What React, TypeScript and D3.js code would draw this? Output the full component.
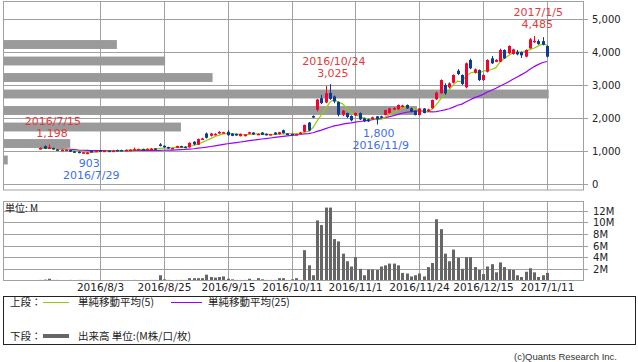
import React from 'react';
import * as d3 from 'd3';

// ---- data ----
const months: [string, number[]][] = [
  ['2016/7', [13, 14, 15, 19, 20, 21, 22, 25, 26, 27, 28, 29]],
  ['2016/8', [1, 2, 3, 4, 5, 8, 9, 10, 12, 15, 16, 17, 18, 19, 22, 23, 24, 25, 26, 29, 30, 31]],
  ['2016/9', [1, 2, 5, 6, 7, 8, 9, 12, 13, 14, 15, 16, 20, 21, 23, 26, 27, 28, 29, 30]],
  ['2016/10', [3, 4, 5, 6, 7, 11, 12, 13, 14, 17, 18, 19, 20, 21, 24, 25, 26, 27, 28, 31]],
  ['2016/11', [1, 2, 4, 7, 8, 9, 10, 11, 14, 15, 16, 17, 18, 21, 22, 24, 25, 28, 29, 30]],
  ['2016/12', [1, 2, 5, 6, 7, 8, 9, 12, 13, 14, 15, 16, 19, 20, 21, 22, 26, 27, 28, 29, 30]],
  ['2017/1', [4, 5, 6, 10, 11]],
];
const dates: string[] = months.flatMap(([m, ds]) => ds.map((d) => `${m}/${d}`));

const opens = [
  1060, 1150, 1080, 1090, 1050, 1020, 1030, 1030, 990, 980,
  940, 920, 1000, 990, 1020, 1000, 1010, 1000, 1030, 1030,
  1020, 1030, 1030, 1040, 1060, 1050, 1050, 1080, 1200, 1160,
  1120, 1080, 1100, 1150, 1130, 1110, 1280, 1190, 1350, 1530,
  1460, 1480, 1530, 1550, 1580, 1530, 1520, 1450, 1450, 1530,
  1560, 1510, 1560, 1520, 1500, 1560, 1510, 1630, 1530, 1520,
  1500, 1520, 1585, 1860, 2060, 2250, 2600, 2470, 2760, 2650,
  2490, 2100, 2150, 2060, 2080, 2150, 1990, 1960, 1960, 2050,
  2050, 2090, 2150, 2260, 2263, 2330, 2394, 2293, 2220, 2090,
  2290, 2200, 2294, 2566, 2748, 3000, 2930, 3070, 3433, 3303,
  2930, 3757, 3373, 3454, 3150, 3403, 3808, 3700, 3707, 4060,
  3960, 3940, 4000, 4000, 3860, 4110, 4300, 4330, 4330, 4182,
];
const highs = [
  1110, 1170, 1198, 1100, 1060, 1045, 1050, 1040, 1000, 990,
  970, 970, 1010, 1020, 1030, 1020, 1015, 1020, 1040, 1040,
  1045, 1050, 1100, 1070, 1070, 1080, 1090, 1090, 1240, 1170,
  1130, 1100, 1160, 1160, 1140, 1260, 1300, 1380, 1400, 1560,
  1550, 1540, 1600, 1580, 1630, 1540, 1530, 1530, 1510, 1580,
  1570, 1530, 1570, 1530, 1520, 1570, 1580, 1650, 1540, 1530,
  1520, 1580, 1800, 1880, 2080, 2580, 2700, 2970, 3025, 2680,
  2500, 2240, 2160, 2080, 2170, 2170, 2010, 1980, 2040, 2060,
  2070, 2250, 2310, 2330, 2410, 2400, 2410, 2320, 2230, 2300,
  2300, 2280, 2560, 2800, 3170, 3050, 3080, 3320, 3480, 3320,
  3680, 3800, 3500, 3470, 3330, 3780, 3880, 3780, 4100, 4080,
  4200, 4100, 4060, 4020, 4080, 4420, 4485, 4380, 4450, 4200,
];
const lows = [
  1050, 1060, 1070, 1040, 1010, 1010, 1020, 970, 950, 930,
  930, 903, 960, 980, 990, 990, 995, 995, 1010, 1015,
  1015, 1020, 1020, 1030, 1040, 1045, 1040, 1050, 1140, 1100,
  1070, 1070, 1090, 1110, 1100, 1100, 1180, 1180, 1340, 1380,
  1440, 1470, 1520, 1540, 1460, 1450, 1460, 1440, 1440, 1520,
  1490, 1500, 1480, 1470, 1490, 1490, 1500, 1530, 1490, 1490,
  1495, 1510, 1570, 1600, 2000, 2200, 2420, 2450, 2550, 2450,
  2050, 2060, 2000, 1900, 2060, 1940, 1880, 1880, 1950, 1800,
  1990, 2080, 2140, 2240, 2250, 2320, 2280, 2170, 2080, 2080,
  2140, 2180, 2280, 2550, 2740, 2700, 2900, 3050, 3300, 3000,
  2900, 3480, 3350, 3120, 3120, 3380, 3640, 3690, 3690, 3790,
  3940, 3920, 3900, 3820, 3840, 4100, 4280, 4220, 4200, 3840,
];
const closes = [
  1090, 1070, 1110, 1050, 1020, 1035, 1040, 980, 960, 940,
  960, 950, 970, 1010, 1000, 1010, 1000, 1010, 1015, 1020,
  1035, 1040, 1050, 1060, 1050, 1060, 1070, 1060, 1150, 1110,
  1080, 1090, 1150, 1120, 1110, 1250, 1200, 1360, 1380, 1400,
  1530, 1520, 1580, 1570, 1480, 1460, 1470, 1520, 1500, 1570,
  1500, 1520, 1490, 1480, 1510, 1500, 1570, 1540, 1500, 1500,
  1510, 1560, 1790, 1620, 2030, 2560, 2450, 2750, 2580, 2500,
  2100, 2220, 2030, 1930, 2150, 1960, 1900, 1900, 2020, 1960,
  2010, 2240, 2290, 2300, 2394, 2380, 2290, 2190, 2090, 2290,
  2150, 2260, 2545, 2767, 3150, 2748, 3050, 3303, 3333, 3030,
  3657, 3505, 3475, 3150, 3303, 3757, 3657, 3760, 4060, 3808,
  4181, 4080, 3930, 3900, 4060, 4384, 4340, 4240, 4220, 3858,
];
const volumes = [
  0.1, 0.15, 0.3, 0.1, 0.1, 0.05, 0.05, 0.1, 0.05, 0.1,
  0.1, 0.1, 0.05, 0.05, 0.05, 0.05, 0.05, 0.05, 0.05, 0.05,
  0.05, 0.05, 0.1, 0.05, 0.05, 0.05, 0.1, 0.1, 0.9, 0.2,
  0.1, 0.05, 0.1, 0.1, 0.1, 0.4, 0.4, 0.4, 0.4, 1.0,
  0.6, 0.5, 0.6, 0.7, 0.3, 0.2, 0.1, 0.1, 0.1, 0.3,
  0.1, 0.4, 0.2, 0.1, 0.1, 0.1, 0.4, 0.4, 0.1, 0.2,
  0.4, 0.1, 5.2, 2.6, 0.9, 10.3, 9.5, 12.5, 12.5, 7.1,
  6.7, 4.6, 3.3, 2.4, 4.0, 2.0, 0.9, 1.9, 1.9, 1.8,
  2.4, 2.6, 2.9, 2.9, 2.6, 1.3, 1.2, 0.7, 0.9, 1.2,
  0.7, 2.3, 3.0, 10.5, 8.8, 4.6, 3.3, 5.3, 3.9, 2.0,
  4.0, 4.0, 2.3, 1.8, 1.1, 2.4, 2.8, 1.4, 3.1, 2.3,
  1.9, 1.8, 0.9, 0.6, 1.5, 2.1, 1.4, 0.6, 0.9, 1.3,
];

// volume-by-price (price band centre, total volume M)
const vbpPrices = [727, 1227, 1727, 2227, 2727, 3227, 3727, 4227];
const vbpVolumes = [1.2, 17, 45, 104.7, 138, 53, 41, 28.8];

const xTickLabels = ['2016/8/3', '2016/8/25', '2016/9/15', '2016/10/11', '2016/11/1', '2016/11/24', '2016/12/15', '2017/1/11'];
const priceTicks = [0, 1000, 2000, 3000, 4000, 5000];
const volTicks = [2, 4, 6, 8, 10, 12];

const highMarks = ['2016/7/15', '2016/10/24', '2017/1/5'];
const lowMarks = ['2016/7/29', '2016/11/9'];

// ---- styles ----
const RED = '#f5002f';
const BLUE = '#0c3b91';
const GRID = '#a0a0a0';
const FONT = '"DejaVu Sans", sans-serif';
const CJK = '"Noto Sans CJK JP", sans-serif';

function movingAvg(src: number[], n: number) {
  return src.map((_, i) => {
    const s = src.slice(Math.max(0, i - n + 1), i + 1);
    return d3.mean(s) as number;
  });
}

export default function App() {
  const L = 3, R = 583;
  const x = d3.scaleLinear().domain([14, 119]).range([100, 547]);
  const y = d3.scaleLinear().domain([0, 5000]).range([184, 19]);
  const yv = d3.scaleLinear().domain([0, 12]).range([280.5, 210.5]);
  const xv = d3.scaleLinear().domain([0, 138]).range([L, 548.7]);

  const ma5 = movingAvg(closes, 5);
  const ma25 = movingAvg(closes, 25);
  const line = d3.line<number>().x((_, i) => x(i)).y((d) => y(d));

  const fmt = d3.format(',');
  const px = (v: number) => Math.round(v) + 0.5;

  return (
    <svg width={638} height={362} style={{ display: 'block', position: 'absolute', left: 0, top: 0 }}>
      <rect x={0} y={0} width={638} height={362} fill="#fff" />
      {/* upper grid */}
      {priceTicks.map((t) => (
        <g key={'pg' + t}>
          <line x1={L} x2={R + 5} y1={px(y(t))} y2={px(y(t))} stroke={GRID} strokeWidth={1} />
          <text x={592} y={y(t) + 4} fontFamily={FONT} fontSize={10} fill="#222">{fmt(t)}</text>
        </g>
      ))}
      {xTickLabels.map((d) => {
        const xi = px(x(dates.indexOf(d)));
        return (
          <g key={'vg' + d}>
            <line x1={xi} x2={xi} y1={1} y2={190} stroke={GRID} strokeWidth={1} />
            <line x1={xi} x2={xi} y1={201} y2={280} stroke={GRID} strokeWidth={1} />
            <text x={xi} y={291} textAnchor="middle" fontFamily={FONT} fontSize={10.5} fill="#222">{d}</text>
          </g>
        );
      })}
      {/* volume by price */}
      {vbpPrices.map((p, i) => (
        <rect key={'vbp' + i} x={L} y={y(p + 135)} width={xv(vbpVolumes[i]) - L} height={y(p - 135) - y(p + 135)} fill="#9a9a9a" />
      ))}
      <rect x={L + 0.5} y={1.5} width={R - L} height={188.5} fill="none" stroke={GRID} strokeWidth={1} />
      {/* moving averages */}
      <path d={line(ma25) || ''} fill="none" stroke="#9a00ff" strokeWidth={1.2} />
      <path d={line(ma5) || ''} fill="none" stroke="#99cc00" strokeWidth={1.2} />
      {/* candles */}
      {closes.map((c, i) => {
        const o = opens[i];
        const col = c >= o ? RED : BLUE;
        const cx = Math.round(x(i));
        const top = y(Math.max(o, c));
        const bot = y(Math.min(o, c));
        return (
          <g key={'c' + i}>
            <line x1={cx + 0.5} x2={cx + 0.5} y1={y(highs[i])} y2={y(lows[i])} stroke={col} strokeWidth={1} />
            <rect x={cx - 1} y={top} width={3} height={Math.max(1.5, bot - top)} fill={col} />
          </g>
        );
      })}
      {/* annotations */}
      {highMarks.map((d) => {
        const i = dates.indexOf(d);
        const yy = y(highs[i]);
        return (
          <g key={'h' + d} fill="#e03c3c" fontFamily={FONT} fontSize={11} textAnchor="middle">
            <text x={x(i) + 4} y={yy - 19.5}>{d}</text>
            <text x={x(i) + 3} y={yy - 7.5}>{fmt(highs[i])}</text>
          </g>
        );
      })}
      {lowMarks.map((d) => {
        const i = dates.indexOf(d);
        const yy = y(lows[i]);
        return (
          <g key={'l' + d} fill="#3d6fe8" fontFamily={FONT} fontSize={11} textAnchor="middle">
            <text x={x(i) + 2} y={yy + 12.5}>{fmt(lows[i])}</text>
            <text x={x(i) + 4} y={yy + 24.7}>{d}</text>
          </g>
        );
      })}
      {/* volume panel */}
      {volTicks.map((t) => (
        <g key={'vt' + t}>
          <line x1={L} x2={R + 5} y1={px(yv(t))} y2={px(yv(t))} stroke={GRID} strokeWidth={1} />
          <text x={593} y={yv(t) + 4} fontFamily={FONT} fontSize={10} fill="#222">{t}M</text>
        </g>
      ))}
      <text x={5} y={212} fontFamily={CJK} fontSize={10} fill="#222">単位: M</text>
      {volumes.map((v, i) => {
        const cx = Math.round(x(i));
        return <rect key={'v' + i} x={cx - 1} y={yv(v)} width={3} height={yv(0) - yv(v)} fill="#666" />;
      })}
      <rect x={L + 0.5} y={201.5} width={R - L} height={79} fill="none" stroke={GRID} strokeWidth={1} />
      {/* legend */}
      <rect x={3.5} y={296.5} width={632} height={48} fill="none" stroke="#222" strokeWidth={1} />
      <text x={10} y={306} fontFamily={CJK} fontSize={10.5} fill="#222">上段：</text>
      <line x1={43} x2={69} y1={302.5} y2={302.5} stroke="#99cc00" strokeWidth={1} />
      <text x={78} y={306} fontFamily={CJK} fontSize={10.5} fill="#222">単純移動平均(5)</text>
      <line x1={171} x2={202} y1={302.5} y2={302.5} stroke="#9a00ff" strokeWidth={1} />
      <text x={208} y={306} fontFamily={CJK} fontSize={10.5} fill="#222">単純移動平均(25)</text>
      <text x={10} y={340} fontFamily={CJK} fontSize={10.5} fill="#222">下段：</text>
      <line x1={43} x2={69} y1={336} y2={336} stroke="#666" strokeWidth={4} />
      <text x={78} y={340} fontFamily={CJK} fontSize={10.5} fill="#222">出来高 単位:(M株/口/枚)</text>
      <text x={617} y={360} textAnchor="end" fontFamily='"Liberation Sans", sans-serif' fontSize={9.5} fill="#333">(c)Quants Research Inc.</text>
    </svg>
  );
}
